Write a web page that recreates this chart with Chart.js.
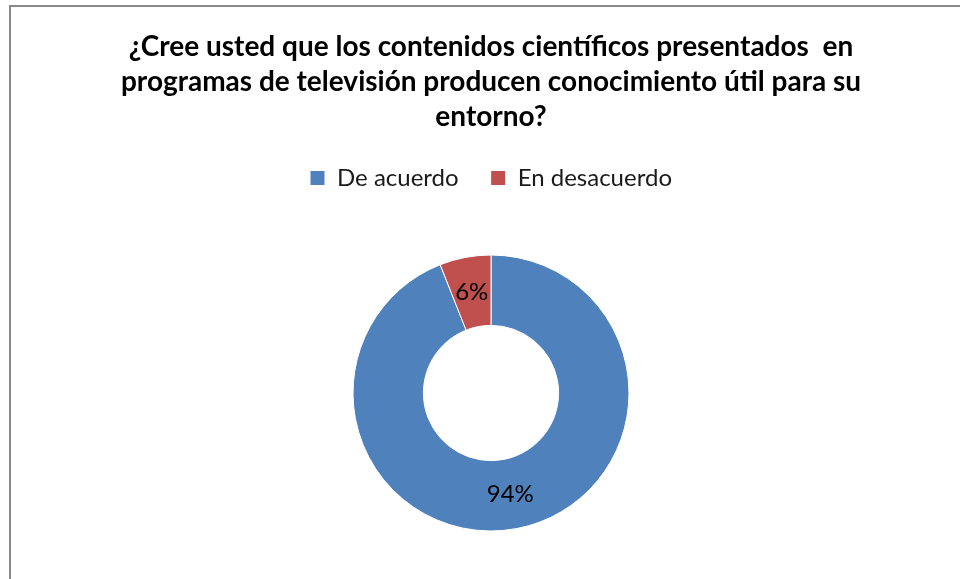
<!DOCTYPE html>
<html lang="es">
<head>
<meta charset="utf-8">
<title>Contenidos científicos en televisión</title>
<script src="https://cdn.jsdelivr.net/npm/chart.js@4.4.0/dist/chart.umd.min.js"></script>
<style>
  html, body { margin: 0; padding: 0; background: #fff; overflow: hidden; }
  #frame {
    position: absolute; left: 9px; top: 5px;
    width: 1000px; height: 700px;
    border: 2px solid #898989;
  }
  /* canvas runs a bit past the bottom edge so the ring can sit low */
  #wrap { position: absolute; left: 0; top: 0; width: 960px; height: 620px; }
</style>
</head>
<body>
<div id="frame"></div>
<div id="wrap"><canvas id="donut"></canvas></div>
<script>
// survey answers
const labels = ["De acuerdo", "En desacuerdo"];
const values = [94, 6];
const colors = ["#4F81BD", "#C0504D"];
const titleLines = [
  "¿Cree usted que los contenidos científicos presentados  en",
  "programas de televisión producen conocimiento útil para su",
  "entorno?",
];

// writes "NN%" in the middle of each slice
const sliceLabels = {
  id: "sliceLabels",
  afterDatasetsDraw(chart) {
    const { ctx } = chart;
    const meta = chart.getDatasetMeta(0);
    const total = values.reduce((a, b) => a + b, 0);
    ctx.save();
    ctx.font = "24px Lato";
    ctx.fillStyle = "#000";
    ctx.textAlign = "center";
    ctx.textBaseline = "middle";
    meta.data.forEach((arc, i) => {
      const p = arc.getCenterPoint();
      const pct = Math.round((values[i] / total) * 100);
      ctx.fillText(pct + "%", p.x, p.y);
    });
    ctx.restore();
  },
};

new Chart(document.getElementById("donut"), {
  type: "doughnut",
  data: {
    labels,
    datasets: [
      {
        data: values,
        backgroundColor: colors,
        borderColor: "#fff",
        borderWidth: 1,
      },
    ],
  },
  options: {
    responsive: true,
    maintainAspectRatio: false,
    animation: false,
    radius: 138,
    cutout: "49%",
    layout: { padding: { left: 22, right: 0, top: 0, bottom: 34 } },
    plugins: {
      title: {
        display: true,
        text: titleLines,
        color: "#000",
        font: { family: "Lato", size: 28, weight: "bold", lineHeight: "35px" },
        padding: { top: 29, bottom: 0 },
      },
      legend: {
        position: "top",
        labels: {
          color: "#1a1a1a",
          font: { family: "Lato", size: 24 },
          boxWidth: 15,
          boxHeight: 15,
          padding: 32,
        },
      },
      tooltip: { enabled: false },
    },
  },
  plugins: [sliceLabels],
});
</script>
</body>
</html>
